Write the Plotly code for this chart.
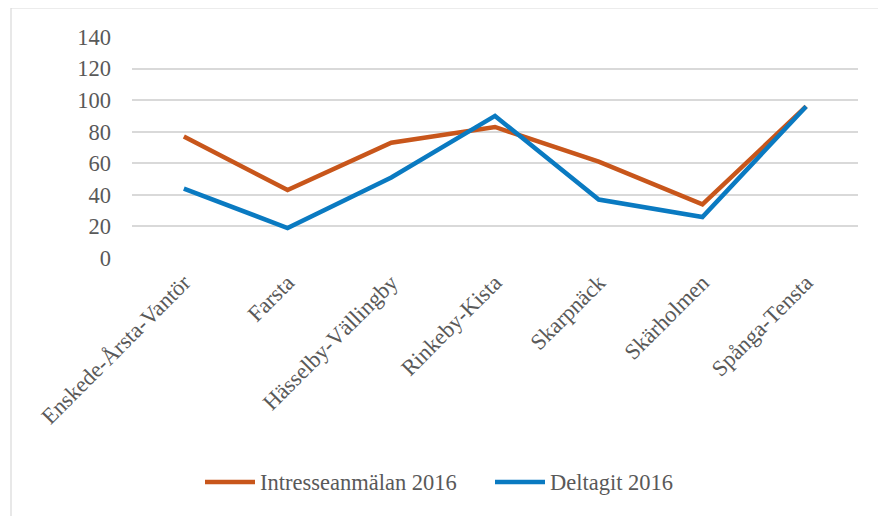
import plotly.graph_objects as go

categories = ["Enskede-Årsta-Vantör", "Farsta", "Hässelby-Vällingby", "Rinkeby-Kista",
              "Skarpnäck", "Skärholmen", "Spånga-Tensta"]
intresse = [77, 43, 73, 83, 61, 34, 96]
deltagit = [44, 19, 51, 90, 37, 26, 96]
series_names = ["Intresseanmälan 2016", "Deltagit 2016"]
y_ticks = [0, 20, 40, 60, 80, 100, 120, 140]

ORANGE = "#C8561B"
BLUE = "#0A7AC1"
FONT = "Liberation Serif, Times New Roman, serif"
TXT = "#595959"
FS = 22.5

fig = go.Figure()
fig.add_trace(go.Scatter(x=categories, y=intresse, mode="lines", name=series_names[0],
                         line=dict(color=ORANGE, width=4.5), showlegend=False))
fig.add_trace(go.Scatter(x=categories, y=deltagit, mode="lines", name=series_names[1],
                         line=dict(color=BLUE, width=4.5), showlegend=False))

OFF = 8  # page body margin
W, H = 886, 516
# desired on-screen plot area: x 132..858, y 37..258
L = 132 - OFF
T = 37 - OFF
R = W - (858 - OFF)
B = H - (258 - OFF)
pw, ph = W - L - R, H - T - B

def px(x):
    return (x - OFF - L) / pw

def py(y):
    return (H - B - (y - OFF)) / ph

shapes = [
    dict(type="rect", xref="paper", yref="paper", x0=px(11), x1=px(905), y0=py(8), y1=py(540),
         line=dict(color="#D9D9D9", width=1.2), fillcolor="rgba(0,0,0,0)", layer="below"),
    dict(type="line", xref="paper", yref="paper", x0=px(205), x1=px(255), y0=py(482), y1=py(482),
         line=dict(color=ORANGE, width=4.5)),
    dict(type="line", xref="paper", yref="paper", x0=px(495), x1=px(545), y0=py(482), y1=py(482),
         line=dict(color=BLUE, width=4.5)),
]
annotations = [
    dict(xref="paper", yref="paper", x=px(258), y=py(482), text=series_names[0], showarrow=False,
         xanchor="left", yanchor="middle", font=dict(family=FONT, size=FS, color=TXT)),
    dict(xref="paper", yref="paper", x=px(548), y=py(482), text=series_names[1], showarrow=False,
         xanchor="left", yanchor="middle", font=dict(family=FONT, size=FS, color=TXT)),
]

fig.update_layout(
    width=W, height=H,
    margin=dict(l=L, r=R, t=T, b=B, pad=0),
    paper_bgcolor="white", plot_bgcolor="white",
    font=dict(family=FONT, size=FS, color=TXT),
    shapes=shapes, annotations=annotations,
    xaxis=dict(type="category", range=[-0.5, len(categories) - 0.5],
               showgrid=False, zeroline=False, showline=False, automargin=False,
               tickangle=-45, ticks="", ticklabelstandoff=6, ticklabelshift=0,
               tickfont=dict(family=FONT, size=FS, color=TXT), fixedrange=True),
    yaxis=dict(range=[0, 140], tickvals=y_ticks, showgrid=True, gridcolor="#D9D9D9", gridwidth=1.5,
               zeroline=False, showline=False, ticks="", ticklabelstandoff=20, automargin=False,
               tickfont=dict(family=FONT, size=FS, color=TXT), fixedrange=True),
)

fig.write_html("out.html")
